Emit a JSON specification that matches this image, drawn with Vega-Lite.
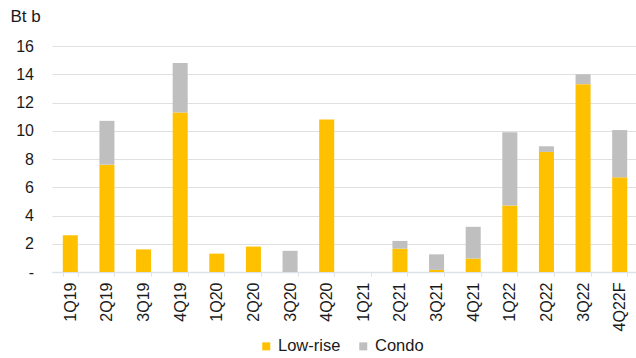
{
  "$schema": "https://vega.github.io/schema/vega-lite/v6.json",
  "autosize": "none",
  "padding": {"left": 52, "top": 46, "right": 0, "bottom": 86},
  "width": 586,
  "height": 226,
  "background": "white",
  "config": {
    "font": "Liberation Sans",
    "view": {"stroke": null},
    "axis": {"labelColor": "#1a1a1a", "titleColor": "#1a1a1a"}
  },
  "data": {
    "values": [
      {"quarter": "1Q19", "series": "Low-rise", "value": 2.6},
      {"quarter": "1Q19", "series": "Condo", "value": 0},
      {"quarter": "2Q19", "series": "Low-rise", "value": 7.6},
      {"quarter": "2Q19", "series": "Condo", "value": 3.1},
      {"quarter": "3Q19", "series": "Low-rise", "value": 1.6},
      {"quarter": "3Q19", "series": "Condo", "value": 0},
      {"quarter": "4Q19", "series": "Low-rise", "value": 11.3},
      {"quarter": "4Q19", "series": "Condo", "value": 3.5},
      {"quarter": "1Q20", "series": "Low-rise", "value": 1.3},
      {"quarter": "1Q20", "series": "Condo", "value": 0},
      {"quarter": "2Q20", "series": "Low-rise", "value": 1.8},
      {"quarter": "2Q20", "series": "Condo", "value": 0},
      {"quarter": "3Q20", "series": "Low-rise", "value": 0},
      {"quarter": "3Q20", "series": "Condo", "value": 1.5},
      {"quarter": "4Q20", "series": "Low-rise", "value": 10.8},
      {"quarter": "4Q20", "series": "Condo", "value": 0},
      {"quarter": "1Q21", "series": "Low-rise", "value": 0},
      {"quarter": "1Q21", "series": "Condo", "value": 0},
      {"quarter": "2Q21", "series": "Low-rise", "value": 1.65},
      {"quarter": "2Q21", "series": "Condo", "value": 0.55},
      {"quarter": "3Q21", "series": "Low-rise", "value": 0.15},
      {"quarter": "3Q21", "series": "Condo", "value": 1.1},
      {"quarter": "4Q21", "series": "Low-rise", "value": 0.95},
      {"quarter": "4Q21", "series": "Condo", "value": 2.25},
      {"quarter": "1Q22", "series": "Low-rise", "value": 4.7},
      {"quarter": "1Q22", "series": "Condo", "value": 5.2},
      {"quarter": "2Q22", "series": "Low-rise", "value": 8.5},
      {"quarter": "2Q22", "series": "Condo", "value": 0.4},
      {"quarter": "3Q22", "series": "Low-rise", "value": 13.3},
      {"quarter": "3Q22", "series": "Condo", "value": 0.7},
      {"quarter": "4Q22F", "series": "Low-rise", "value": 6.7},
      {"quarter": "4Q22F", "series": "Condo", "value": 3.35}
    ]
  },
  "mark": {"type": "bar"},
  "encoding": {
    "x": {
      "field": "quarter",
      "type": "nominal",
      "sort": null,
      "scale": {"paddingInner": 0.59, "paddingOuter": 0.295},
      "axis": {
        "title": null,
        "labelAngle": -90,
        "labelFontSize": 16,
        "labelPadding": 6,
        "tickBand": "extent",
        "tickSize": 4,
        "tickColor": "#dbe2ea",
        "domainColor": "#dbe2ea",
        "domainWidth": 1.5,
        "grid": false
      }
    },
    "y": {
      "field": "value",
      "type": "quantitative",
      "aggregate": "sum",
      "stack": "zero",
      "scale": {"domain": [0, 16], "nice": false},
      "axis": {
        "title": "Bt b",
        "titleAngle": 0,
        "titleAlign": "left",
        "titleBaseline": "middle",
        "titleX": -42,
        "titleY": -30,
        "titleFontSize": 17,
        "titleFontWeight": "normal",
        "values": [0, 2, 4, 6, 8, 10, 12, 14, 16],
        "labelExpr": "datum.value == 0 ? '-\u00a0\u00a0' : datum.label",
        "labelFontSize": 16,
        "labelPadding": 18.5,
        "ticks": false,
        "domain": false,
        "grid": true,
        "gridColor": "#e0e0e0",
        "gridWidth": 1.2
      }
    },
    "color": {
      "field": "series",
      "type": "nominal",
      "scale": {"domain": ["Low-rise", "Condo"], "range": ["#FFC000", "#BFBFBF"]},
      "legend": {
        "title": null,
        "orient": "none",
        "direction": "horizontal",
        "legendX": 206,
        "legendY": 292,
        "symbolType": "square",
        "symbolSize": 64,
        "symbolStrokeWidth": 0,
        "labelFontSize": 16.5,
        "labelColor": "#1a1a1a",
        "labelOffset": 3.5,
        "columnPadding": 14
      }
    },
    "order": {"field": "series", "sort": "descending"}
  }
}
